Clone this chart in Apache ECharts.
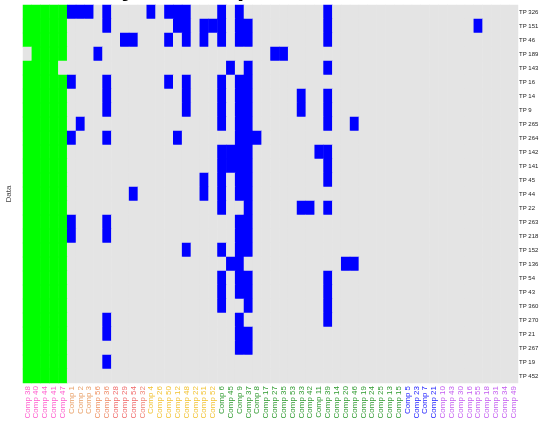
<!DOCTYPE html>
<html>
<head>
<meta charset="utf-8">
<script src="https://cdn.jsdelivr.net/npm/echarts@6/dist/echarts.min.js"></script>
<style>
  html, body { margin: 0; padding: 0; background: #ffffff; }
  #chart { width: 539px; height: 422px; }
</style>
</head>
<body>
<div id="chart"></div>
<script>
// Compound columns, in clustered order
const comps = [
  'Comp 38','Comp 40','Comp 44','Comp 41','Comp 47',
  'Comp 1','Comp 2','Comp 3','Comp 56','Comp 36','Comp 28','Comp 29','Comp 54','Comp 32',
  'Comp 4','Comp 26','Comp 50','Comp 12','Comp 48','Comp 22','Comp 51','Comp 52',
  'Comp 6','Comp 45','Comp 9','Comp 37','Comp 8','Comp 17','Comp 27','Comp 35','Comp 53',
  'Comp 33','Comp 42','Comp 11','Comp 39','Comp 14','Comp 20','Comp 46','Comp 19','Comp 24',
  'Comp 25','Comp 13','Comp 15',
  'Comp 5','Comp 23','Comp 7','Comp 21',
  'Comp 10','Comp 43','Comp 30','Comp 16','Comp 55','Comp 18','Comp 31','Comp 34','Comp 49'
];

// Colour of each column label (cluster groups)
const compColors = [
  '#ff5ccd','#ff5ccd','#ff5ccd','#ff5ccd','#ff5ccd',
  '#e8a068','#e8a068','#e8a068','#ee8f5e','#ee8a66','#f06a6a','#f06a6a','#f06a6a','#f08070',
  '#f2c232','#f2c232','#f2c232','#f2c232','#f2c232','#f2c232','#f2c232','#f2c232',
  '#2f9a2f','#2f9a2f','#2f9a2f','#2f9a2f','#2f9a2f','#2f9a2f','#2f9a2f','#2f9a2f','#2f9a2f',
  '#2f9a2f','#2f9a2f','#2f9a2f','#2f9a2f','#2f9a2f','#2f9a2f','#2f9a2f','#2f9a2f','#2f9a2f',
  '#2f9a2f','#2f9a2f','#2f9a2f',
  '#2424ff','#2424ff','#2424ff','#2424ff',
  '#c35cf0','#c35cf0','#c35cf0','#c35cf0','#c35cf0','#c35cf0','#c35cf0','#c35cf0','#c35cf0'
];

// Row labels, top to bottom
const tps = [
  'TP 326','TP 151','TP 46','TP 189','TP 143','TP 16','TP 14','TP 9','TP 265',
  'TP 264','TP 142','TP 141','TP 45','TP 44','TP 22','TP 263','TP 218','TP 152',
  'TP 136','TP 54','TP 43','TP 360','TP 270','TP 21','TP 267','TP 19','TP 452'
];

// Cell states per row: 0 = absent, 1 = hit, 2 = reference group
const cells = [
  '22222111010000101110001010000000001000000000000000000000',
  '22222000010000000110111011000000001000000000000000010000',
  '22222000000110001010101011000000001000000000000000000000',
  '02222000100000000000000000001100000000000000000000000000',
  '22220000000000000000000101000000001000000000000000000000',
  '22222100010000001010001011000000000000000000000000000000',
  '22222000010000000010001011000001001000000000000000000000',
  '22222000010000000010001011000001001000000000000000000000',
  '22222010000000000000001011000000001001000000000000000000',
  '22222100010000000100000011100000000000000000000000000000',
  '22222000000000000000001111000000011000000000000000000000',
  '22222000000000000000001111000000001000000000000000000000',
  '22222000000000000000101011000000001000000000000000000000',
  '22222000000010000000101011000000000000000000000000000000',
  '22222000000000000000001001000001101000000000000000000000',
  '22222100010000000000000011000000000000000000000000000000',
  '22222100010000000000000011000000000000000000000000000000',
  '22222000000000000010001011000000000000000000000000000000',
  '22222000000000000000000110000000000011000000000000000000',
  '22222000000000000000001011000000001000000000000000000000',
  '22222000000000000000001011000000001000000000000000000000',
  '22222000000000000000001001000000001000000000000000000000',
  '22222000010000000000000010000000001000000000000000000000',
  '22222000010000000000000011000000000000000000000000000000',
  '22222000000000000000000011000000000000000000000000000000',
  '22222000010000000000000000000000000000000000000000000000',
  '22222000000000000000000000000000000000000000000000000000'
];

const heatData = [];
cells.forEach(function (row, y) {
  for (let x = 0; x < comps.length; x++) {
    heatData.push([x, y, Number(row.charAt(x))]);
  }
});

const chart = echarts.init(document.getElementById('chart'), null, { renderer: 'canvas' });

chart.setOption({
  backgroundColor: '#ffffff',
  animation: false,
  title: {
    text: 'Binary Heatmap',
    left: 50,
    top: -29,
    textStyle: { fontFamily: 'Liberation Sans', fontSize: 26, fontWeight: 'bold', color: '#000000' }
  },
  grid: {
    left: 23, right: 21, top: 5, bottom: 39,
    containLabel: false,
    outerBoundsMode: 'none'
  },
  xAxis: {
    type: 'category',
    data: comps,
    position: 'bottom',
    axisLine: { show: false },
    axisTick: { show: false },
    splitLine: { show: false },
    splitArea: { show: false },
    axisLabel: {
      interval: 0,
      rotate: 90,
      margin: 3,
      fontSize: 8,
      fontFamily: 'Liberation Sans',
      color: function (value, index) { return compColors[index]; }
    }
  },
  yAxis: [
    {
      type: 'category',
      data: tps,
      inverse: true,
      position: 'right',
      axisLine: { show: false },
      axisTick: { show: false },
      splitLine: { show: false },
      axisLabel: {
        interval: 0,
        margin: 1,
        fontSize: 6,
        fontFamily: 'Liberation Sans',
        color: '#222222'
      }
    },
    {
      type: 'category',
      data: tps,
      inverse: true,
      position: 'left',
      axisLine: { show: false },
      axisTick: { show: false },
      splitLine: { show: false },
      axisLabel: { show: false },
      name: 'Data',
      nameLocation: 'middle',
      nameGap: 10,
      nameTextStyle: { fontFamily: 'Liberation Sans', fontSize: 8, color: '#444444' }
    }
  ],
  visualMap: {
    type: 'piecewise',
    show: false,
    dimension: 2,
    pieces: [
      { value: 0, color: '#e4e4e4' },
      { value: 1, color: '#0000ff' },
      { value: 2, color: '#00ff00' }
    ]
  },
  series: [{
    type: 'heatmap',
    xAxisIndex: 0,
    yAxisIndex: 0,
    data: heatData,
    progressive: 0,
    itemStyle: { borderWidth: 0 },
    emphasis: { disabled: true }
  }]
});
</script>
</body>
</html>
